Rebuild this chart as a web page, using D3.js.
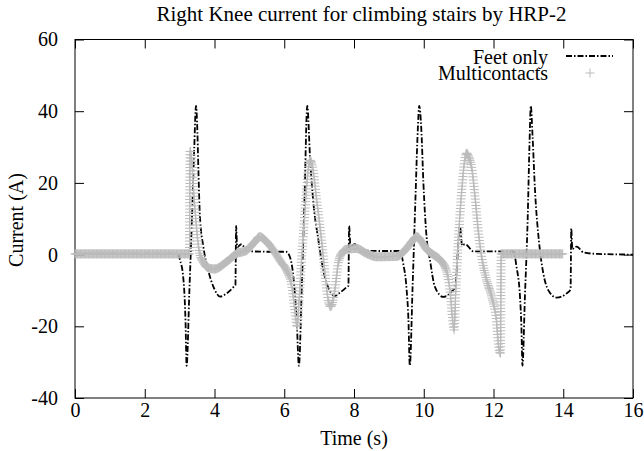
<!DOCTYPE html>
<html>
<head>
<meta charset="utf-8">
<script src="https://cdn.jsdelivr.net/npm/d3@7"></script>
<style>
  html, body { margin: 0; padding: 0; background: #fff; }
</style>
</head>
<body>
<svg id="chart" width="644" height="451"></svg>
<script>
// --- Data (time in s, current in A) ---
var feetT = [0, 2.95, 3.01, 3.1, 3.17, 3.2, 3.28, 3.35, 3.42, 3.47, 3.5, 3.54, 3.58, 3.68, 3.82, 3.97,
  4.16, 4.35, 4.54, 4.6, 4.62, 4.65, 4.72, 4.78, 4.92, 5.5, 6.05, 6.16, 6.26, 6.36, 6.42, 6.5, 6.58,
  6.66, 6.74, 6.83, 6.98, 7.12, 7.3, 7.45, 7.6, 7.8, 7.84, 7.86, 7.9, 7.96, 8.03, 8.15, 8.8, 9.32,
  9.41, 9.51, 9.56, 9.6, 9.68, 9.76, 9.83, 9.87, 9.93, 9.99, 10.08, 10.18, 10.32, 10.56, 10.8, 10.9,
  11.04, 11.1, 11.18, 11.23, 11.42, 12.0, 12.57, 12.66, 12.76, 12.8, 12.83, 12.9, 12.98, 13.03, 13.07,
  13.12, 13.19, 13.31, 13.43, 13.57, 13.81, 14.1, 14.21, 14.23, 14.26, 14.32, 14.39, 14.58, 14.96, 16];
var feetA = [0.3, 0.3, -1.5, -6, -19, -31, -10, 9, 30, 41.5, 37, 23, 11, 2.2, -4.4, -9,
  -11.7, -10.8, -9.1, -8.5, 8, 2, 2.6, 2.9, 1, 0.8, 0.8, -0.6, -6, -19, -31, -10, 15,
  41.5, 27, 15, 4, -4.4, -10, -11.5, -10.6, -9, -8.7, 8, 2, 2.6, 2.9, 1.2, 1, 1,
  -2.4, -9.9, -18, -31, -9, 15, 35, 41.5, 35, 20, 5, -1.6, -9, -11.8, -10.3, -9,
  7.8, 2.5, 2.9, 2.7, 0.9, 0.9, 0.9, -3.4, -11.8, -20, -31, -12, 10, 30, 41.5,
  33, 18, 3.1, -5.3, -9.9, -12, -10.8, -9.7, 7.3, 1.5, 2, 2.2, 0.6, 0.2, 0];

var multiT = [0, 3.28, 3.3, 3.34, 3.4, 3.48, 3.56, 3.7, 3.85, 4.0, 4.35, 4.64, 4.92, 5.15, 5.3, 5.45,
  5.69, 5.9, 6.07, 6.2, 6.26, 6.32, 6.37, 6.43, 6.5, 6.58, 6.66, 6.74, 6.8, 6.93, 7.07, 7.17, 7.26,
  7.33, 7.45, 7.55, 7.65, 7.79, 8.07, 8.36, 8.65, 9.22, 9.46, 9.65, 9.8, 9.95, 10.08, 10.27, 10.47,
  10.66, 10.75, 10.82, 10.87, 10.92, 10.97, 11.09, 11.17, 11.23, 11.3, 11.37, 11.47, 11.56, 11.66,
  11.8, 11.95, 12.07, 12.17, 12.2, 12.22, 14.0];
var multiA = [0.2, 0.2, 29, 27, 18, 8, 1, -2.5, -3.8, -4, -2, 0.3, 1.2, 3.5, 5, 4,
  1.2, -2, -4.4, -8, -11.8, -17, -20, -12, -1, 10, 21, 26.3, 25, 15.2, 4, -5.3, -12.7,
  -14.5, -9.9, -2.4, 0.4, 1.5, 1.7, 0.3, -0.6, -0.5, 1.2, 3.5, 5, 3.5, 1.5, 0, -1.5,
  -4.8, -9.9, -17.3, -21, -10, 0, 18, 26, 28.3, 27, 24.5, 16.2, 6.9, -0.6,
  -7, -11.8, -17.3, -27, -27.5, 0.2, 0.2];

var xTicks = [0, 2, 4, 6, 8, 10, 12, 14, 16];
var yTicks = [-40, -20, 0, 20, 40, 60];
var seriesNames = ['Feet only', 'Multicontacts'];

(function () {
  'use strict';

  var LEFT = 75, RIGHT = 633, TOP = 39.5, BOTTOM = 398;
  var TICK = 9;
  var GRAY = '#bbbbbb';
  var CROSS = 4.5;   // half arm of the "+" point
  var FONT = "'Liberation Serif'";
  var FONT_SIZE = '20px';

  var svg = d3.select('#chart');
  var x = d3.scaleLinear().domain([0, 16]).range([LEFT, RIGHT]);
  var y = d3.scaleLinear().domain([-40, 60]).range([BOTTOM, TOP]);

  function serifText(sel) {
    return sel.style('font-family', FONT).style('font-size', FONT_SIZE).style('fill', '#000');
  }

  function styleAxis(g) {
    g.select('.domain').remove();
    g.attr('font-family', null).attr('font-size', null);
    g.selectAll('line').attr('stroke', '#000');
    serifText(g.selectAll('text'));
  }

  // inward ticks on all four sides, labels only bottom/left
  svg.append('g').attr('transform', 'translate(0,' + BOTTOM + ')')
    .call(d3.axisBottom(x).tickValues(xTicks).tickFormat(String).tickSize(-TICK).tickPadding(5))
    .call(styleAxis);
  svg.append('g').attr('transform', 'translate(0,' + TOP + ')')
    .call(d3.axisTop(x).tickValues(xTicks).tickFormat('').tickSize(-TICK))
    .call(styleAxis);
  svg.append('g').attr('transform', 'translate(' + LEFT + ',0)')
    .call(d3.axisLeft(y).tickValues(yTicks).tickFormat(String).tickSize(-TICK).tickPadding(17))
    .call(styleAxis);
  svg.append('g').attr('transform', 'translate(' + RIGHT + ',0)')
    .call(d3.axisRight(y).tickValues(yTicks).tickFormat('').tickSize(-TICK))
    .call(styleAxis);

  svg.append('rect')
    .attr('x', LEFT).attr('y', TOP)
    .attr('width', RIGHT - LEFT).attr('height', BOTTOM - TOP)
    .attr('fill', 'none').attr('stroke', '#000').attr('stroke-width', 1);

  // titles
  svg.append('text').attr('x', 361.5).attr('y', 20.5).attr('text-anchor', 'middle')
    .call(serifText).style('font-size', '21px')
    .text('Right Knee current for climbing stairs by HRP-2');
  svg.append('text').attr('x', 354).attr('y', 445).attr('text-anchor', 'middle')
    .call(serifText).text('Time (s)');
  svg.append('text').attr('transform', 'translate(23,220) rotate(-90)').attr('text-anchor', 'middle')
    .call(serifText).text('Current (A)');

  var line = d3.line()
    .x(function (d) { return x(d[0]); })
    .y(function (d) { return y(d[1]); })
    .curve(d3.curveMonotoneX);

  var feet = feetT.map(function (t, i) { return [t, feetA[i]]; });
  var multi = multiT.map(function (t, i) { return [t, multiA[i]]; });

  // Feet only: black dash-dot line
  svg.append('path')
    .attr('d', line(feet))
    .attr('fill', 'none')
    .attr('stroke', '#000')
    .attr('stroke-width', 1.8)
    .attr('stroke-dasharray', '6,2,1.5,2');

  // Multicontacts: "+" points laid along the curve, dense like the sampled signal
  var guide = svg.append('path').attr('d', line(multi)).attr('fill', 'none').attr('stroke', 'none');
  var node = guide.node();
  var total = node.getTotalLength();
  var pts = [];
  var last = null;
  for (var l = 0; l <= total; l += 0.4) {
    var p = node.getPointAtLength(l);
    if (!last || Math.abs(p.x - last.x) >= 0.5 || Math.hypot(p.x - last.x, p.y - last.y) >= 3) {
      pts.push(p);
      last = p;
    }
  }
  var crossD = pts.map(function (p) {
    return 'M' + (p.x - CROSS) + ',' + p.y + 'h' + (2 * CROSS) +
      'M' + p.x + ',' + (p.y - CROSS) + 'v' + (2 * CROSS);
  }).join('');
  svg.append('path').attr('d', crossD).attr('fill', 'none')
    .attr('stroke', GRAY).attr('stroke-width', 1);
  guide.remove();

  // legend
  var legend = svg.append('g');
  legend.append('text').attr('x', 548).attr('y', 64).attr('text-anchor', 'end')
    .call(serifText).text(seriesNames[0]);
  legend.append('text').attr('x', 548).attr('y', 79.5).attr('text-anchor', 'end')
    .call(serifText).text(seriesNames[1]);
  legend.append('line').attr('x1', 566).attr('x2', 613).attr('y1', 56).attr('y2', 56)
    .attr('stroke', '#000').attr('stroke-width', 1.8).attr('stroke-dasharray', '6,2,1.5,2');
  legend.append('path')
    .attr('d', 'M' + (590 - CROSS) + ',73h' + (2 * CROSS) + 'M590,' + (73 - CROSS) + 'v' + (2 * CROSS))
    .attr('stroke', GRAY).attr('stroke-width', 1);
})();
</script>
</body>
</html>
